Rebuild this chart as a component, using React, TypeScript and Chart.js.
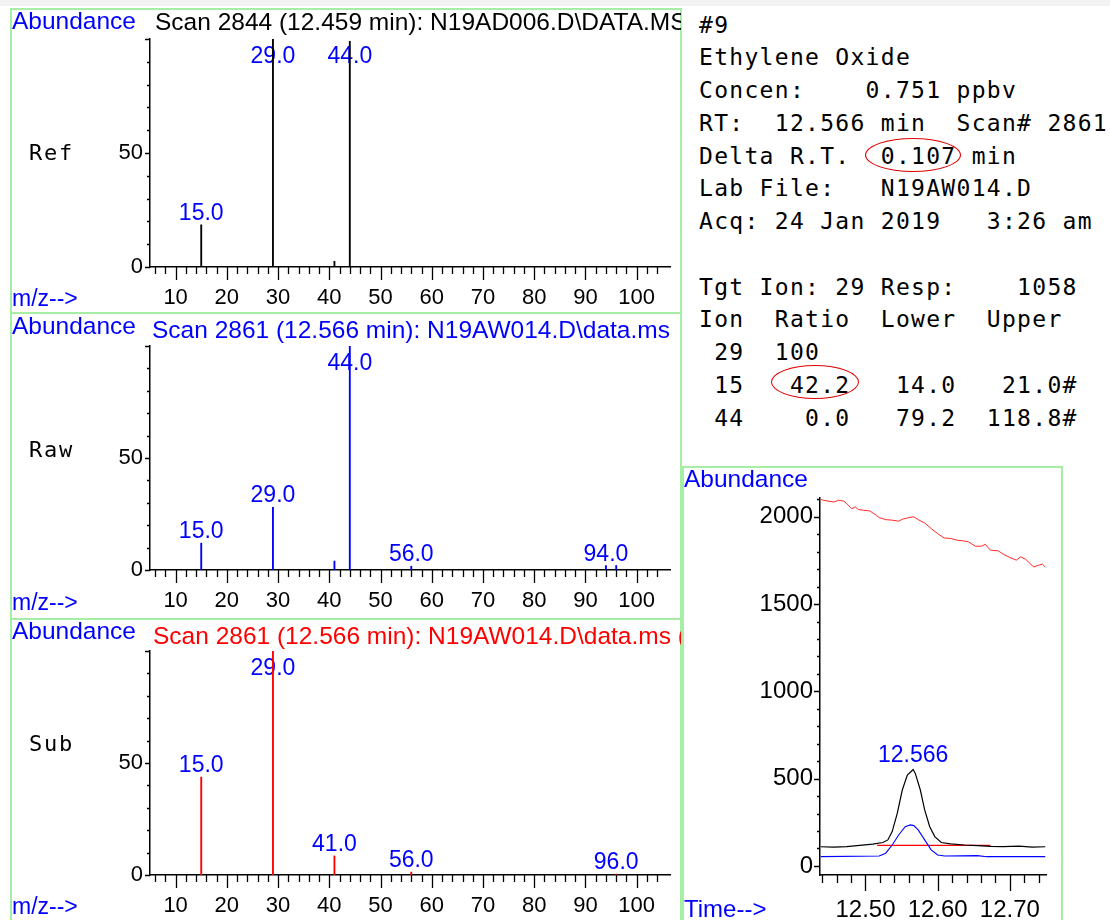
import React, { useEffect, useRef } from 'react';
import { Chart, registerables } from 'chart.js';

Chart.register(...registerables);

// ---------------- data ----------------
const refMz = [15, 29, 41, 44];
const refAbundance = [18.5, 100, 2.5, 99];
const refLabeledMz = [15, 29, 44];

const rawMz = [15, 29, 41, 44, 56, 94, 96];
const rawAbundance = [12, 28, 4, 100, 1.7, 2, 2];
const rawLabeledMz = [15, 29, 44, 56, 94];

const subMz = [15, 29, 41, 56, 96];
const subAbundance = [43.7, 100, 8.5, 1.3, 0.4];
const subLabeledMz = [15, 29, 41, 56, 96];

const mzTickLabels = [10, 20, 30, 40, 50, 60, 70, 80, 90, 100];
const mzMinorTicks = [6, 8, 10, 12, 14, 16, 18, 20, 22, 24, 26, 28, 30, 32, 34, 36, 38, 40, 42, 44, 46, 48, 50, 52, 54, 56, 58, 60, 62, 64, 66, 68, 70, 72, 74, 76, 78, 80, 82, 84, 86, 88, 90, 92, 94, 96, 98, 100, 102, 104];
const abundanceTickLabels = [0, 50];
const abundanceMinorTicks = [0, 10, 20, 30, 40, 50, 60, 70, 80, 90, 100];

// ion 44 (red)
const ion44Time = [12.438, 12.447, 12.456, 12.463, 12.470, 12.474, 12.481, 12.486, 12.490, 12.497, 12.506, 12.515, 12.519, 12.528, 12.537, 12.546, 12.551, 12.560, 12.567, 12.573, 12.582, 12.591, 12.600, 12.609, 12.618, 12.627, 12.636, 12.643, 12.652, 12.661, 12.666, 12.673, 12.684, 12.691, 12.700, 12.709, 12.715, 12.722, 12.733, 12.740, 12.745, 12.749];
const ion44Abundance = [2099, 2091, 2085, 2095, 2090, 2076, 2047, 2057, 2042, 2038, 2034, 2009, 1996, 1984, 1981, 1975, 1986, 1996, 2000, 1984, 1965, 1933, 1904, 1879, 1876, 1866, 1862, 1856, 1832, 1832, 1843, 1809, 1805, 1786, 1767, 1752, 1771, 1756, 1713, 1723, 1729, 1713];
// ion 29 (black, target)
const ion29Time = [12.438, 12.456, 12.474, 12.492, 12.510, 12.524, 12.531, 12.537, 12.544, 12.551, 12.558, 12.566, 12.569, 12.576, 12.582, 12.589, 12.596, 12.605, 12.618, 12.637, 12.655, 12.673, 12.691, 12.713, 12.731, 12.749];
const ion29Abundance = [110, 108, 111, 118, 125, 134, 149, 197, 301, 435, 521, 552, 530, 435, 321, 225, 168, 134, 126, 120, 116, 112, 111, 113, 108, 110];
// ion 15 (blue, qualifier)
const ion15Time = [12.438, 12.519, 12.528, 12.537, 12.546, 12.555, 12.562, 12.567, 12.573, 12.582, 12.591, 12.600, 12.610, 12.655, 12.668, 12.749];
const ion15Abundance = [53, 57, 73, 120, 177, 225, 235, 231, 206, 149, 92, 63, 57, 59, 53, 53];
// integration baseline
const baselineTime = [12.516, 12.673];
const baselineAbundance = [118, 118];
const peakRt = 12.566;

const rtTickLabels = [12.5, 12.6, 12.7];
const rtMinorTicks = [12.44, 12.46, 12.48, 12.5, 12.52, 12.54, 12.56, 12.58, 12.6, 12.62, 12.64, 12.66, 12.68, 12.7, 12.72, 12.74];
const chromTickLabels = [0, 500, 1000, 1500, 2000];
const chromMinorTicks = [0, 100, 200, 300, 400, 500, 600, 700, 800, 900, 1000, 1100, 1200, 1300, 1400, 1500, 1600, 1700, 1800, 1900, 2000, 2100];

const infoLines = [
  '#9',
  'Ethylene Oxide',
  'Concen:    0.751 ppbv',
  'RT:  12.566 min  Scan# 2861',
  'Delta R.T.  0.107 min',
  'Lab File:   N19AW014.D',
  'Acq: 24 Jan 2019   3:26 am',
  '',
  'Tgt Ion: 29 Resp:    1058',
  'Ion  Ratio  Lower  Upper',
  ' 29  100',
  ' 15   42.2   14.0   21.0#',
  ' 44    0.0   79.2  118.8#',
];

// ---------------- styles ----------------
const SANS = '"Liberation Sans", Arial, Helvetica, sans-serif';
const MONO = '"DejaVu Sans Mono", "Liberation Mono", monospace';
const BLUE = '#0000ff';
const RED = '#ff0000';
const LINE_RED = '#ff2a2a';
const GREEN = '#a6eea6';

Chart.defaults.font.family = SANS;

type Box = { left: number; top: number; width: number; height: number };
type Area = { left: number; top: number; right: number; bottom: number };

function Spectrum(props: { mz: number[]; abundance: number[]; labeled: number[]; color: string; box: Box; area: Area }) {
  const ref = useRef<HTMLCanvasElement>(null);
  const { mz, abundance, labeled, color, box, area } = props;
  useEffect(() => {
    const decor = {
      id: 'spectrumDecor',
      beforeDatasetsDraw(chart: any) {
        const { ctx, chartArea: ca, scales } = chart;
        ctx.save();
        ctx.font = `23px ${SANS}`;
        ctx.fillStyle = BLUE;
        ctx.textAlign = 'center';
        ctx.textBaseline = 'alphabetic';
        labeled.forEach((m) => {
          const i = mz.indexOf(m);
          const px = scales.x.getPixelForValue(m);
          const py = scales.y.getPixelForValue(abundance[i]);
          ctx.fillText(m.toFixed(1), px, Math.max(py - 5, ca.top + 24));
        });
        ctx.restore();
      },
      afterDraw(chart: any) {
        const { ctx, chartArea: ca, scales } = chart;
        ctx.save();
        ctx.strokeStyle = '#000';
        ctx.lineWidth = 1.3;
        ctx.beginPath();
        mzMinorTicks.forEach((v) => {
          const px = Math.round(scales.x.getPixelForValue(v)) + 0.5;
          const len = v % 10 === 0 ? 13 : 7;
          ctx.moveTo(px, ca.bottom);
          ctx.lineTo(px, ca.bottom + len);
        });
        abundanceMinorTicks.forEach((v) => {
          const py = Math.round(scales.y.getPixelForValue(v)) + 0.5;
          const len = v % 50 === 0 ? 5 : 3;
          ctx.moveTo(ca.left - len, py);
          ctx.lineTo(ca.left, py);
        });
        ctx.stroke();
        ctx.restore();
      },
    };
    const chart = new Chart(ref.current!, {
      type: 'bar',
      data: {
        datasets: [
          {
            data: mz.map((m, i) => ({ x: m, y: abundance[i] })),
            backgroundColor: color,
            borderWidth: 0,
            barThickness: 1.2,
          } as any,
        ],
      },
      options: {
        responsive: false,
        animation: false,
        events: [],
        layout: { padding: { top: area.top - box.top, right: box.left + box.width - area.right, left: 0, bottom: 0 } },
        plugins: { legend: { display: false }, tooltip: { enabled: false } },
        scales: {
          x: {
            type: 'linear',
            min: 5,
            max: 106.5,
            offset: false,
            grid: { display: false, drawTicks: false, offset: false },
            border: { display: true, color: '#000', width: 1.5 },
            ticks: { autoSkip: false, maxRotation: 0, padding: 18, color: '#000', font: { size: 22 }, callback: (v: any) => String(v) },
            afterBuildTicks: (s: any) => { s.ticks = mzTickLabels.map((v) => ({ value: v })); },
            afterFit: (s: any) => { s.height = box.top + box.height - area.bottom; },
          } as any,
          y: {
            type: 'linear',
            min: 0,
            max: 100,
            grid: { display: false, drawTicks: false },
            border: { display: true, color: '#000', width: 1.5 },
            ticks: { autoSkip: false, padding: 7, color: '#000', font: { size: 22 }, callback: (v: any) => String(v) },
            afterBuildTicks: (s: any) => { s.ticks = abundanceTickLabels.map((v) => ({ value: v })); },
            afterFit: (s: any) => { s.width = area.left - box.left; },
          } as any,
        },
      },
      plugins: [decor as any],
    });
    return () => chart.destroy();
  }, []);
  return (
    <canvas
      ref={ref}
      width={box.width}
      height={box.height}
      style={{ position: 'absolute', left: box.left, top: box.top, width: box.width, height: box.height }}
    />
  );
}

function Chromatogram(props: { box: Box; area: Area }) {
  const ref = useRef<HTMLCanvasElement>(null);
  const { box, area } = props;
  useEffect(() => {
    const decor = {
      id: 'chromDecor',
      afterDraw(chart: any) {
        const { ctx, chartArea: ca, scales } = chart;
        ctx.save();
        ctx.strokeStyle = '#000';
        ctx.lineWidth = 1.3;
        ctx.beginPath();
        rtMinorTicks.forEach((v) => {
          const px = Math.round(scales.x.getPixelForValue(v)) + 0.5;
          const major = Math.abs(v * 10 - Math.round(v * 10)) < 1e-6;
          const len = major ? 16 : 8;
          ctx.moveTo(px, ca.bottom);
          ctx.lineTo(px, ca.bottom + len);
        });
        chromMinorTicks.forEach((v) => {
          const py = Math.round(scales.y.getPixelForValue(v)) + 0.5;
          const len = v % 500 === 0 ? 6 : 3;
          ctx.moveTo(ca.left - len, py);
          ctx.lineTo(ca.left, py);
        });
        ctx.stroke();
        // peak label
        const i = ion29Time.indexOf(peakRt);
        const px = scales.x.getPixelForValue(peakRt);
        const py = scales.y.getPixelForValue(ion29Abundance[i]);
        ctx.font = `23px ${SANS}`;
        ctx.fillStyle = BLUE;
        ctx.textAlign = 'center';
        ctx.textBaseline = 'alphabetic';
        ctx.fillText(peakRt.toFixed(3), px, py - 8);
        ctx.restore();
      },
    };
    const line = (t: number[], a: number[], c: string, w: number) => ({
      data: t.map((x, i) => ({ x, y: a[i] })),
      borderColor: c,
      borderWidth: w,
      showLine: true,
      pointRadius: 0,
      tension: 0,
      fill: false,
    });
    const chart = new Chart(ref.current!, {
      type: 'scatter',
      data: {
        datasets: [
          line(ion44Time, ion44Abundance, LINE_RED, 1),
          line(ion29Time, ion29Abundance, '#000', 1.2),
          line(ion15Time, ion15Abundance, BLUE, 1.1),
          line(baselineTime, baselineAbundance, RED, 1.3),
        ] as any,
      },
      options: {
        responsive: false,
        animation: false,
        events: [],
        layout: { padding: { top: area.top - box.top, right: box.left + box.width - area.right, left: 0, bottom: 0 } },
        plugins: { legend: { display: false }, tooltip: { enabled: false } },
        scales: {
          x: {
            type: 'linear',
            min: 12.437,
            max: 12.751,
            grid: { display: false, drawTicks: false },
            border: { display: true, color: '#000', width: 1.5 },
            ticks: { autoSkip: false, maxRotation: 0, padding: 21, color: '#000', font: { size: 24 }, callback: (v: any) => Number(v).toFixed(2) },
            afterBuildTicks: (s: any) => { s.ticks = rtTickLabels.map((v) => ({ value: v })); },
            afterFit: (s: any) => { s.height = box.top + box.height - area.bottom; },
          } as any,
          y: {
            type: 'linear',
            min: -52,
            max: 2108,
            grid: { display: false, drawTicks: false },
            border: { display: true, color: '#000', width: 1.5 },
            ticks: { autoSkip: false, padding: 7, color: '#000', font: { size: 24 }, callback: (v: any) => String(v) },
            afterBuildTicks: (s: any) => { s.ticks = chromTickLabels.map((v) => ({ value: v })); },
            afterFit: (s: any) => { s.width = area.left - box.left; },
          } as any,
        },
      },
      plugins: [decor as any],
    });
    return () => chart.destroy();
  }, []);
  return (
    <canvas
      ref={ref}
      width={box.width}
      height={box.height}
      style={{ position: 'absolute', left: box.left, top: box.top, width: box.width, height: box.height }}
    />
  );
}

function Txt(props: { x: number; base: number; size: number; color?: string; family?: string; width?: number; ls?: number; children: any }) {
  const { x, base, size, color = '#000', family = SANS, width, ls, children } = props;
  return (
    <div
      style={{
        position: 'absolute',
        left: x,
        top: base - 0.85 * size,
        fontSize: size,
        lineHeight: `${size}px`,
        height: Math.round(size * 1.3),
        fontFamily: family,
        color,
        whiteSpace: 'pre',
        width,
        overflow: width ? 'hidden' : 'visible',
        letterSpacing: ls,
      }}
    >
      {children}
    </div>
  );
}

function Frame(props: { left: number; top: number; width: number; height: number }) {
  return (
    <div
      style={{
        position: 'absolute',
        left: props.left,
        top: props.top,
        width: props.width,
        height: props.height,
        border: `2px solid ${GREEN}`,
        boxSizing: 'border-box',
      }}
    />
  );
}

export default function App() {
  const spectra = [
    { name: 'Ref', title: 'Scan 2844 (12.459 min): N19AD006.D\\DATA.MS', titleColor: '#000', mz: refMz, abundance: refAbundance, labeled: refLabeledMz, color: '#000', boxTop: 8, boxH: 304, areaTop: 39, areaBottom: 267, abBase: 30, titleBase: 31, nameBase: 161, mzBase: 307, titleX: 155 },
    { name: 'Raw', title: 'Scan 2861 (12.566 min): N19AW014.D\\data.ms', titleColor: BLUE, mz: rawMz, abundance: rawAbundance, labeled: rawLabeledMz, color: BLUE, boxTop: 312, boxH: 306, areaTop: 346, areaBottom: 570, abBase: 335, titleBase: 339, nameBase: 458, mzBase: 611, titleX: 152 },
    { name: 'Sub', title: 'Scan 2861 (12.566 min): N19AW014.D\\data.ms (', titleColor: RED, mz: subMz, abundance: subAbundance, labeled: subLabeledMz, color: RED, boxTop: 618, boxH: 302, areaTop: 651, areaBottom: 875, abBase: 640, titleBase: 645, nameBase: 752, mzBase: 915, titleX: 153 },
  ];
  return (
    <div style={{ position: 'absolute', left: 0, top: 0, width: 1110, height: 920, background: '#fff', overflow: 'hidden' }}>
      <div style={{ position: 'absolute', left: 0, top: 0, width: 1110, height: 6, background: '#f3f3f3' }} />
      {spectra.map((s) => (
        <React.Fragment key={s.name}>
          <Frame left={10} top={s.boxTop} width={672} height={s.boxH + 2} />
          <Spectrum
            mz={s.mz}
            abundance={s.abundance}
            labeled={s.labeled}
            color={s.color}
            box={{ left: 10, top: s.boxTop, width: 672, height: s.boxH }}
            area={{ left: 150, top: s.areaTop, right: 670, bottom: s.areaBottom }}
          />
          <Txt x={12} base={s.abBase} size={24.5} color={BLUE}>Abundance</Txt>
          <Txt x={s.titleX} base={s.titleBase} size={24.5} color={s.titleColor} width={681 - s.titleX}>{s.title}</Txt>
          <Txt x={29} base={s.nameBase} size={22} family={MONO} ls={1.8}>{s.name}</Txt>
          <Txt x={12} base={s.mzBase} size={23} color={BLUE}>m/z--&gt;</Txt>
        </React.Fragment>
      ))}
      <Frame left={682} top={466} width={381} height={470} />
      <Chromatogram box={{ left: 682, top: 466, width: 381, height: 454 }} area={{ left: 820, top: 498, right: 1050, bottom: 875 }} />
      <Txt x={684} base={488} size={24.5} color={BLUE}>Abundance</Txt>
      <Txt x={684} base={917} size={24} color={BLUE}>Time--&gt;</Txt>
      <pre
        style={{
          position: 'absolute',
          left: 699,
          top: 8.7,
          margin: 0,
          fontFamily: MONO,
          fontSize: 23,
          letterSpacing: 1.3,
          lineHeight: '32.75px',
          color: '#000',
        }}
      >
        {infoLines.join('\n')}
      </pre>
      <div style={{ position: 'absolute', left: 865, top: 138, width: 96, height: 34, border: '1.5px solid #e00000', borderRadius: '50%', boxSizing: 'border-box' }} />
      <div style={{ position: 'absolute', left: 771, top: 365, width: 88, height: 34, border: '1.5px solid #e00000', borderRadius: '50%', boxSizing: 'border-box' }} />
    </div>
  );
}
